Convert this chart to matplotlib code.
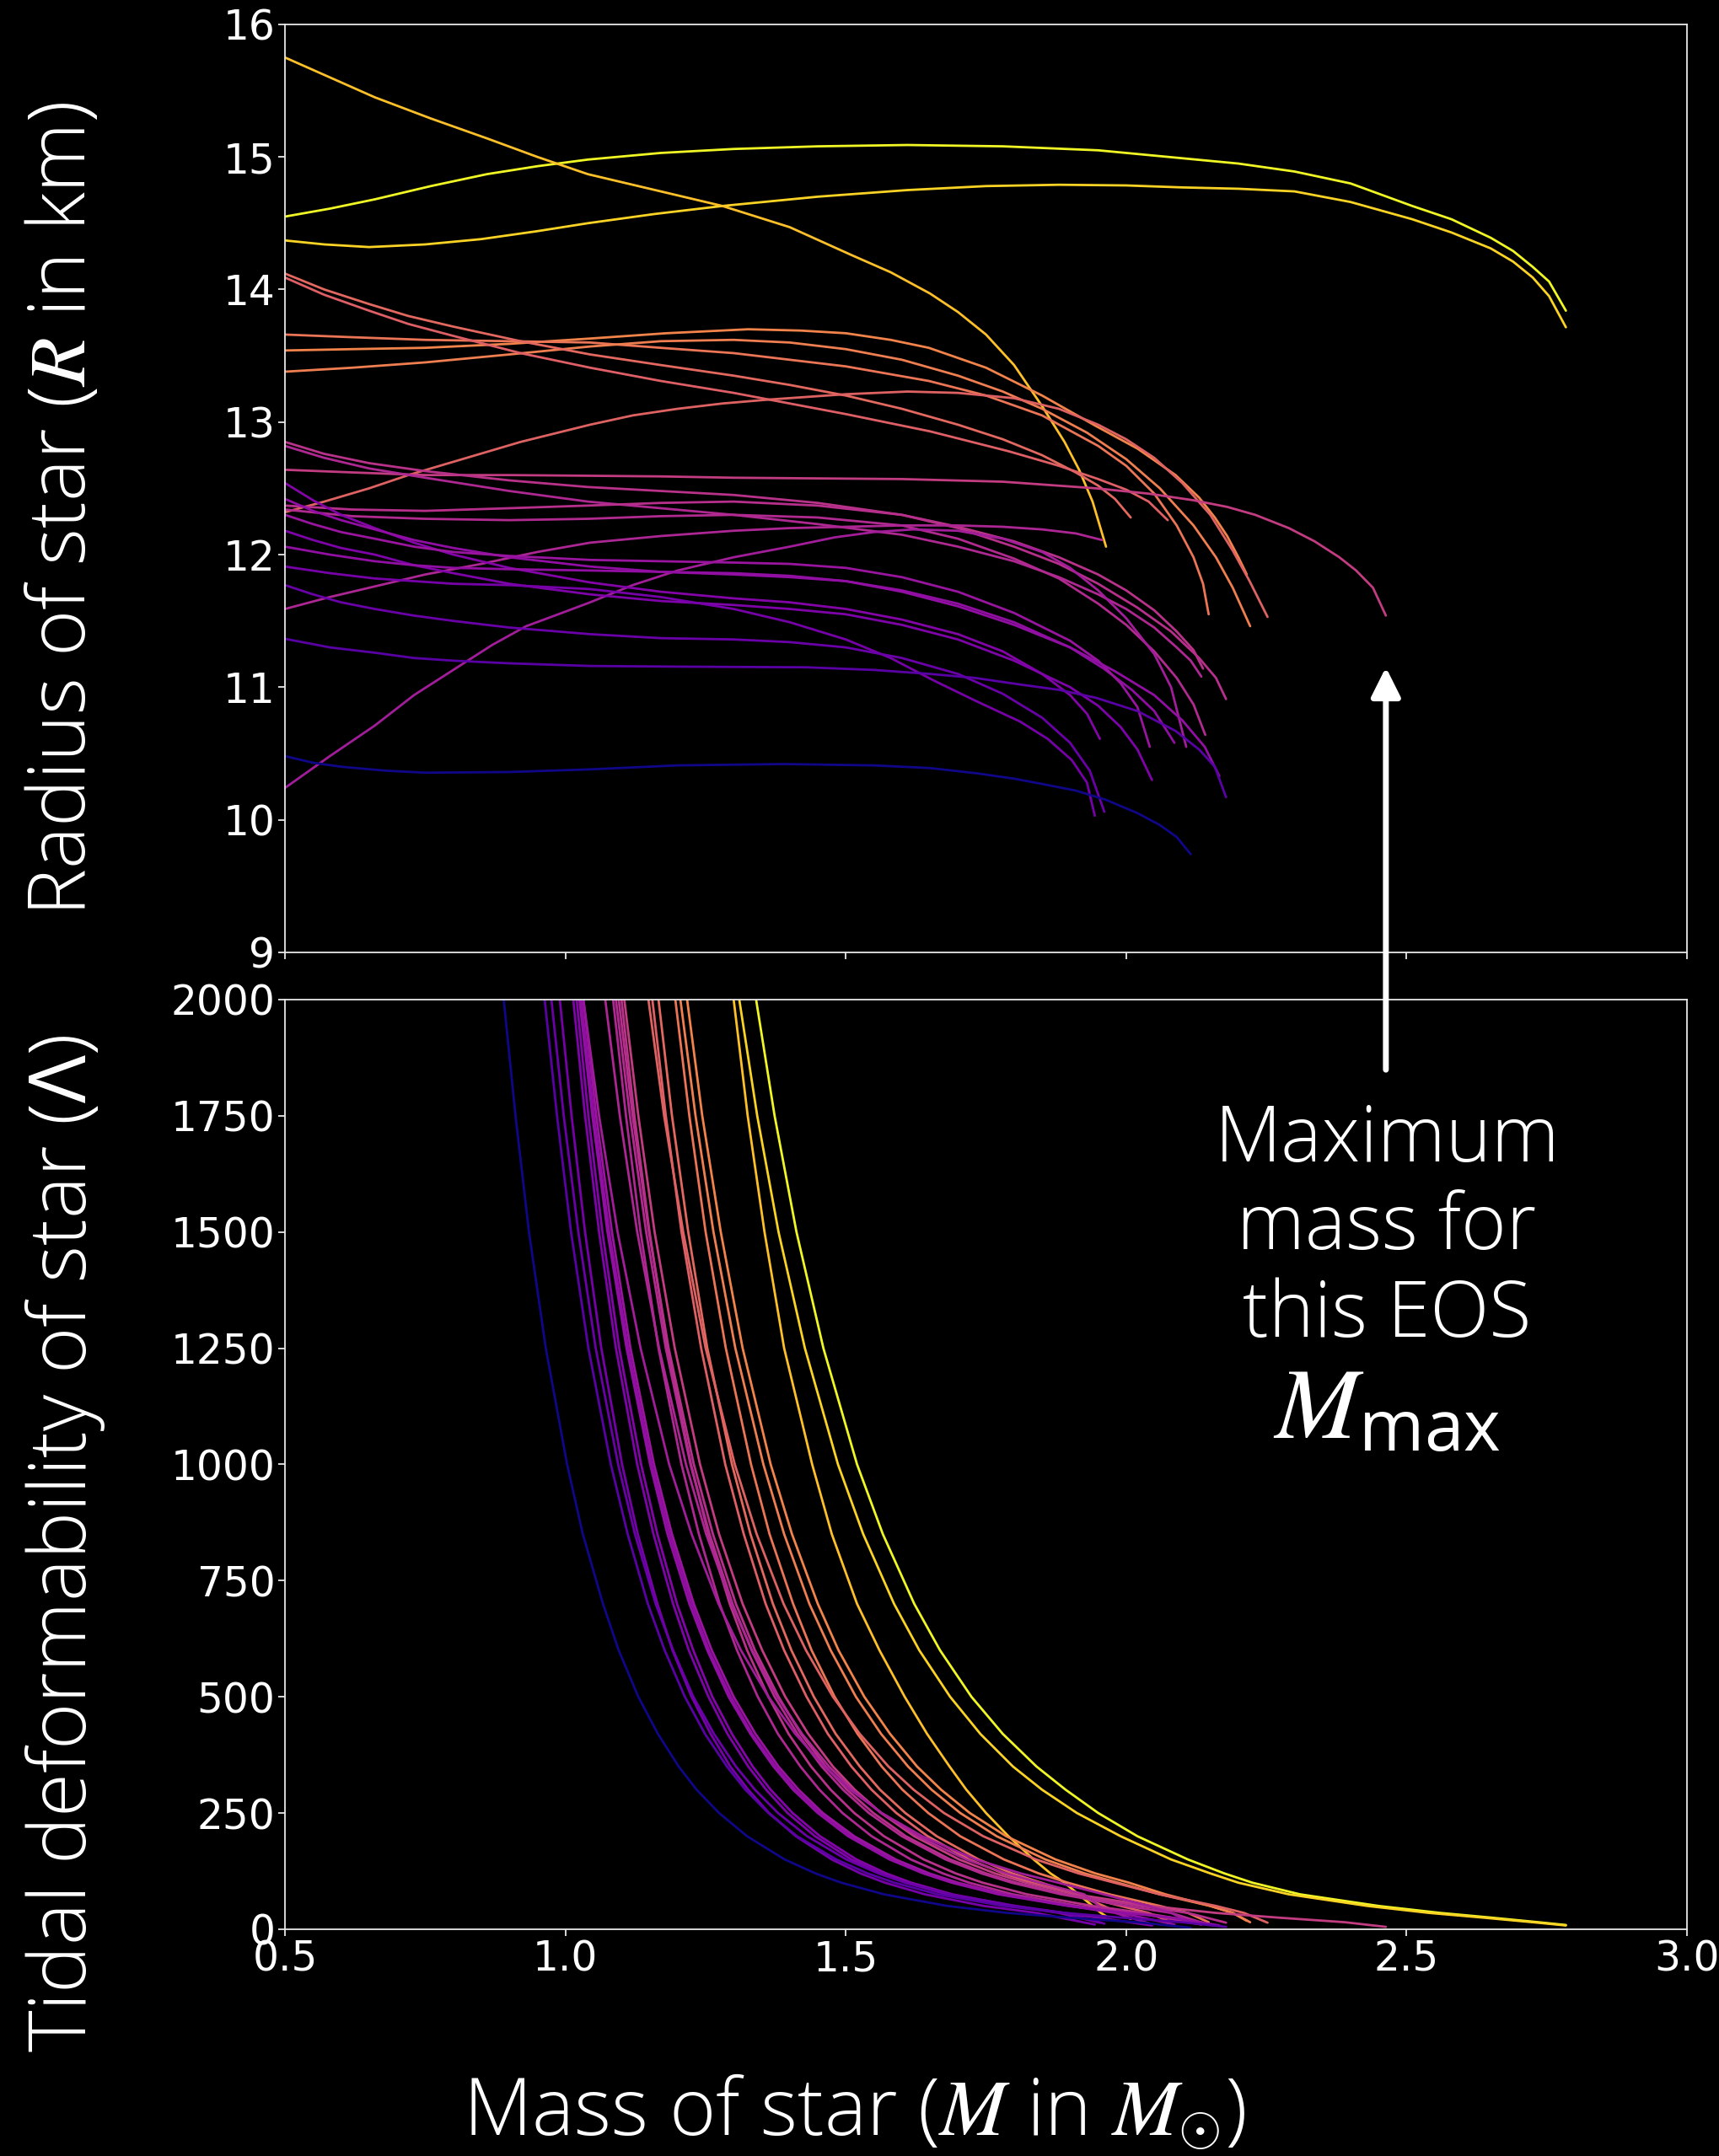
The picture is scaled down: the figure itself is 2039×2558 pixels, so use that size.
import numpy as np
import matplotlib
matplotlib.use("Agg")
import matplotlib.pyplot as plt
from matplotlib.colors import Normalize

plt.rcParams.update({
    "font.family": "DejaVu Sans",
    "mathtext.fontset": "custom",
    "mathtext.rm": "Open Sans",
    "mathtext.sf": "Open Sans",
    "mathtext.it": "STIXGeneral:italic",
    "mathtext.bf": "STIXGeneral:bold",
})

# ---------------------------------------------------------------------------
# Mass-radius relations, one pair of lists per equation of state
# (mass in solar masses, radius in km)
# ---------------------------------------------------------------------------
eos01_mass = [0.5, 0.58, 0.66, 0.76, 0.86, 0.95, 1.04, 1.17, 1.3, 1.45, 1.61, 1.78, 1.95, 2.1, 2.2, 2.3, 2.4, 2.51, 2.58, 2.65, 2.69, 2.725, 2.754, 2.784]
eos01_radius = [14.55, 14.61, 14.68, 14.78, 14.87, 14.93, 14.98, 15.03, 15.06, 15.08, 15.09, 15.08, 15.05, 14.99, 14.95, 14.89, 14.8, 14.63, 14.53, 14.39, 14.29, 14.17, 14.06, 13.84]
eos02_mass = [0.5, 0.57, 0.65, 0.75, 0.85, 0.95, 1.04, 1.16, 1.28, 1.45, 1.61, 1.75, 1.88, 2.0, 2.1, 2.2, 2.3, 2.4, 2.51, 2.58, 2.65, 2.69, 2.725, 2.754, 2.784]
eos02_radius = [14.37, 14.34, 14.32, 14.34, 14.38, 14.44, 14.5, 14.57, 14.63, 14.7, 14.75, 14.78, 14.79, 14.785, 14.77, 14.76, 14.74, 14.66, 14.53, 14.43, 14.31, 14.21, 14.09, 13.95, 13.715]
eos03_mass = [0.5, 0.58, 0.66, 0.76, 0.86, 0.95, 1.04, 1.16, 1.28, 1.4, 1.51, 1.58, 1.65, 1.7, 1.75, 1.8, 1.85, 1.89, 1.916, 1.94, 1.964]
eos03_radius = [15.75, 15.6, 15.45, 15.29, 15.14, 15.0, 14.87, 14.75, 14.63, 14.47, 14.26, 14.13, 13.97, 13.83, 13.66, 13.43, 13.12, 12.85, 12.64, 12.4, 12.06]
eos04_mass = [0.5, 0.62, 0.75, 0.9, 1.044, 1.18, 1.326, 1.42, 1.5, 1.58, 1.648, 1.75, 1.85, 1.946, 2.02, 2.088, 2.13, 2.158, 2.18, 2.2, 2.215]
eos04_radius = [13.54, 13.55, 13.56, 13.59, 13.63, 13.67, 13.70, 13.69, 13.67, 13.62, 13.56, 13.41, 13.2, 12.97, 12.8, 12.6, 12.43, 12.28, 12.14, 11.98, 11.85]
eos05_mass = [0.5, 0.62, 0.75, 0.9, 1.044, 1.17, 1.3, 1.4, 1.5, 1.648, 1.75, 1.85, 1.95, 2.0, 2.05, 2.09, 2.12, 2.137, 2.147]
eos05_radius = [13.66, 13.64, 13.62, 13.61, 13.6, 13.56, 13.52, 13.47, 13.42, 13.31, 13.2, 13.05, 12.82, 12.67, 12.46, 12.22, 11.98, 11.78, 11.55]
eos06_mass = [0.5, 0.62, 0.75, 0.9, 1.044, 1.17, 1.3, 1.4, 1.5, 1.6, 1.7, 1.78, 1.85, 1.93, 2.0, 2.06, 2.12, 2.16, 2.19, 2.221]
eos06_radius = [13.38, 13.41, 13.45, 13.51, 13.57, 13.61, 13.62, 13.6, 13.55, 13.47, 13.35, 13.23, 13.1, 12.92, 12.72, 12.5, 12.22, 11.98, 11.75, 11.46]
eos07_mass = [0.5, 0.57, 0.65, 0.72, 0.8, 0.92, 1.044, 1.17, 1.3, 1.4, 1.5, 1.6, 1.7, 1.78, 1.85, 1.91, 1.95, 1.98, 2.008]
eos07_radius = [14.12, 14.0, 13.89, 13.8, 13.72, 13.61, 13.51, 13.43, 13.35, 13.28, 13.2, 13.1, 12.98, 12.87, 12.75, 12.62, 12.52, 12.42, 12.28]
eos08_mass = [0.5, 0.57, 0.65, 0.72, 0.8, 0.92, 1.044, 1.17, 1.3, 1.4, 1.5, 1.65, 1.79, 1.88, 1.95, 2.0, 2.04, 2.074]
eos08_radius = [14.09, 13.96, 13.84, 13.74, 13.65, 13.52, 13.41, 13.31, 13.22, 13.14, 13.06, 12.93, 12.78, 12.67, 12.57, 12.49, 12.4, 12.26]
eos09_mass = [0.5, 0.57, 0.65, 0.72, 0.8, 0.92, 1.044, 1.12, 1.2, 1.28, 1.364, 1.5, 1.61, 1.7, 1.8, 1.88, 1.95, 2.0, 2.05, 2.1, 2.15, 2.19, 2.22, 2.252]
eos09_radius = [12.32, 12.4, 12.5, 12.6, 12.7, 12.85, 12.98, 13.05, 13.1, 13.14, 13.17, 13.21, 13.23, 13.22, 13.18, 13.1, 12.98, 12.87, 12.73, 12.54, 12.3, 12.03, 11.8, 11.53]
eos10_mass = [0.5, 0.62, 0.75, 0.9, 1.04, 1.17, 1.3, 1.45, 1.6, 1.78, 1.946, 2.04, 2.12, 2.18, 2.23, 2.29, 2.336, 2.38, 2.41, 2.44, 2.463]
eos10_radius = [12.64, 12.62, 12.6, 12.6, 12.595, 12.59, 12.58, 12.575, 12.57, 12.55, 12.5, 12.46, 12.41, 12.36, 12.3, 12.2, 12.1, 11.98, 11.88, 11.75, 11.54]
eos11_mass = [0.5, 0.57, 0.65, 0.75, 0.9, 1.04, 1.17, 1.3, 1.45, 1.6, 1.7, 1.8, 1.88, 1.95, 2.0, 2.05, 2.09, 2.12, 2.137]
eos11_radius = [12.85, 12.76, 12.69, 12.63, 12.56, 12.51, 12.48, 12.45, 12.39, 12.3, 12.21, 12.1, 11.98, 11.85, 11.73, 11.58, 11.42, 11.28, 11.14]
eos12_mass = [0.5, 0.57, 0.65, 0.75, 0.9, 1.04, 1.17, 1.3, 1.45, 1.6, 1.7, 1.8, 1.88, 1.95, 2.0, 2.05, 2.09, 2.115, 2.134]
eos12_radius = [12.82, 12.73, 12.65, 12.58, 12.48, 12.4, 12.35, 12.3, 12.23, 12.15, 12.06, 11.95, 11.83, 11.7, 11.59, 11.45, 11.3, 11.2, 11.08]
eos13_mass = [0.5, 0.62, 0.75, 0.9, 1.04, 1.17, 1.3, 1.45, 1.6, 1.7, 1.8, 1.88, 1.95, 2.02, 2.08, 2.13, 2.16, 2.178]
eos13_radius = [12.37, 12.34, 12.33, 12.35, 12.37, 12.39, 12.4, 12.37, 12.3, 12.2, 12.06, 11.93, 11.78, 11.6, 11.42, 11.22, 11.07, 10.91]
eos14_mass = [0.5, 0.62, 0.75, 0.9, 1.04, 1.17, 1.3, 1.45, 1.6, 1.7, 1.8, 1.88, 1.95, 2.0, 2.05, 2.09, 2.12, 2.141]
eos14_radius = [12.34, 12.29, 12.27, 12.26, 12.27, 12.29, 12.3, 12.28, 12.22, 12.12, 11.97, 11.82, 11.63, 11.47, 11.27, 11.07, 10.87, 10.64]
eos15_mass = [0.5, 0.58, 0.66, 0.75, 0.85, 0.95, 1.044, 1.17, 1.3, 1.4, 1.5, 1.6, 1.7, 1.78, 1.85, 1.91, 1.957]
eos15_radius = [11.59, 11.68, 11.76, 11.85, 11.93, 12.02, 12.09, 12.14, 12.18, 12.2, 12.21, 12.22, 12.22, 12.21, 12.19, 12.16, 12.11]
eos16_mass = [0.5, 0.58, 0.66, 0.73, 0.8, 0.87, 0.93, 1.0, 1.044, 1.12, 1.2, 1.3, 1.4, 1.48, 1.55, 1.62, 1.7, 1.78, 1.85, 1.9, 1.95, 2.0, 2.05, 2.08, 2.107]
eos16_radius = [10.24, 10.48, 10.71, 10.94, 11.13, 11.32, 11.46, 11.57, 11.64, 11.77, 11.88, 11.98, 12.06, 12.13, 12.17, 12.19, 12.18, 12.12, 12.02, 11.9, 11.73, 11.52, 11.25, 11.0, 10.55]
eos17_mass = [0.5, 0.55, 0.6, 0.66, 0.73, 0.8, 0.9, 1.044, 1.17, 1.3, 1.4, 1.5, 1.6, 1.7, 1.78, 1.85, 1.9, 1.93, 1.953]
eos17_radius = [12.54, 12.41, 12.3, 12.2, 12.09, 12.0, 11.9, 11.79, 11.72, 11.67, 11.64, 11.59, 11.51, 11.4, 11.27, 11.1, 10.94, 10.8, 10.61]
eos18_mass = [0.5, 0.55, 0.6, 0.66, 0.73, 0.8, 0.9, 1.044, 1.17, 1.3, 1.4, 1.5, 1.6, 1.7, 1.8, 1.9, 1.96, 2.01, 2.05, 2.086]
eos18_radius = [12.42, 12.33, 12.26, 12.19, 12.11, 12.05, 11.98, 11.91, 11.87, 11.85, 11.83, 11.8, 11.73, 11.63, 11.49, 11.3, 11.14, 10.98, 10.82, 10.58]
eos19_mass = [0.5, 0.55, 0.6, 0.66, 0.73, 0.8, 0.9, 1.044, 1.17, 1.3, 1.4, 1.5, 1.6, 1.7, 1.8, 1.9, 1.95, 1.99, 2.02, 2.042]
eos19_radius = [12.30, 12.23, 12.17, 12.12, 12.06, 12.02, 11.99, 11.96, 11.95, 11.94, 11.93, 11.9, 11.83, 11.72, 11.56, 11.35, 11.2, 11.03, 10.85, 10.55]
eos20_mass = [0.5, 0.55, 0.6, 0.66, 0.73, 0.8, 0.9, 1.044, 1.17, 1.3, 1.4, 1.5, 1.6, 1.7, 1.8, 1.9, 1.95, 1.99, 2.02, 2.046]
eos20_radius = [12.18, 12.11, 12.05, 12.0, 11.92, 11.86, 11.78, 11.7, 11.65, 11.62, 11.59, 11.55, 11.47, 11.36, 11.2, 11.0, 10.86, 10.7, 10.53, 10.30]
eos21_mass = [0.5, 0.58, 0.66, 0.73, 0.8, 0.9, 1.044, 1.17, 1.3, 1.4, 1.5, 1.6, 1.7, 1.8, 1.9, 1.98, 2.05, 2.1, 2.14, 2.166]
eos21_radius = [12.06, 12.0, 11.95, 11.92, 11.9, 11.89, 11.88, 11.87, 11.86, 11.84, 11.8, 11.72, 11.61, 11.47, 11.3, 11.12, 10.94, 10.75, 10.55, 10.33]
eos22_mass = [0.5, 0.58, 0.66, 0.8, 0.9, 1.044, 1.17, 1.3, 1.4, 1.5, 1.58, 1.657, 1.73, 1.811, 1.86, 1.903, 1.93, 1.944]
eos22_radius = [11.91, 11.86, 11.82, 11.78, 11.77, 11.74, 11.68, 11.59, 11.49, 11.36, 11.22, 11.05, 10.9, 10.74, 10.61, 10.45, 10.28, 10.03]
eos23_mass = [0.5, 0.55, 0.6, 0.66, 0.73, 0.8, 0.9, 1.044, 1.17, 1.3, 1.4, 1.5, 1.6, 1.7, 1.78, 1.85, 1.9, 1.935, 1.961]
eos23_radius = [11.77, 11.7, 11.64, 11.59, 11.54, 11.5, 11.45, 11.4, 11.37, 11.36, 11.34, 11.3, 11.22, 11.1, 10.95, 10.77, 10.58, 10.37, 10.06]
eos24_mass = [0.5, 0.58, 0.66, 0.73, 0.8, 0.9, 1.044, 1.2, 1.43, 1.55, 1.65, 1.73, 1.811, 1.88, 1.946, 2.02, 2.088, 2.13, 2.158, 2.178]
eos24_radius = [11.365, 11.3, 11.26, 11.22, 11.2, 11.18, 11.16, 11.155, 11.15, 11.13, 11.1, 11.07, 11.02, 10.98, 10.92, 10.82, 10.67, 10.53, 10.40, 10.17]
eos25_mass = [0.5, 0.55, 0.6, 0.68, 0.75, 0.9, 1.044, 1.2, 1.39, 1.55, 1.65, 1.734, 1.8, 1.85, 1.91, 1.964, 2.02, 2.06, 2.09, 2.115]
eos25_radius = [10.48, 10.43, 10.4, 10.37, 10.355, 10.36, 10.38, 10.41, 10.42, 10.41, 10.39, 10.35, 10.31, 10.27, 10.22, 10.15, 10.05, 9.96, 9.87, 9.74]

# ---------------------------------------------------------------------------
# Tidal deformability: mass at which each curve passes these Lambda levels,
# followed by the value reached at the maximum mass
# ---------------------------------------------------------------------------
lambda_levels = [2600, 2300, 2000, 1750, 1500, 1250, 1000, 850, 700, 600, 500, 420,
                 350, 300, 250, 200, 150, 120, 100, 75, 50, 35, 25, 15]

eos01_lam_mass = [1.278, 1.306, 1.34, 1.373, 1.412, 1.460, 1.520, 1.566, 1.622, 1.668, 1.724, 1.780, 1.840, 1.892, 1.95, 2.02, 2.11, 2.175, 2.225, 2.31, 2.45, 2.56, 2.65, 2.735]
eos02_lam_mass = [1.249, 1.277, 1.31, 1.342, 1.380, 1.427, 1.486, 1.531, 1.586, 1.631, 1.686, 1.740, 1.798, 1.850, 1.912, 1.99, 2.08, 2.15, 2.20, 2.29, 2.43, 2.54, 2.635, 2.725]
eos03_lam_mass = [1.26, 1.28, 1.30, 1.325, 1.355, 1.39, 1.44, 1.475, 1.52, 1.56, 1.605, 1.645, 1.685, 1.715, 1.75, 1.79, 1.835, 1.865, 1.89, 1.915, 1.94, 1.955]
eos04_lam_mass = [1.165, 1.189, 1.217, 1.244, 1.277, 1.316, 1.366, 1.404, 1.450, 1.487, 1.533, 1.579, 1.627, 1.670, 1.721, 1.786, 1.874, 1.945, 2.005, 2.07, 2.15, 2.19]
eos05_lam_mass = [1.149, 1.171, 1.196, 1.221, 1.250, 1.286, 1.331, 1.364, 1.406, 1.439, 1.480, 1.521, 1.564, 1.601, 1.647, 1.704, 1.782, 1.844, 1.896, 1.97, 2.06, 2.11]
eos06_lam_mass = [1.153, 1.177, 1.205, 1.232, 1.264, 1.303, 1.353, 1.390, 1.435, 1.473, 1.518, 1.563, 1.611, 1.653, 1.704, 1.769, 1.856, 1.926, 1.985, 2.06, 2.15, 2.19]
eos07_lam_mass = [1.120, 1.141, 1.166, 1.190, 1.219, 1.253, 1.297, 1.330, 1.370, 1.403, 1.443, 1.482, 1.525, 1.561, 1.606, 1.662, 1.737, 1.797, 1.849, 1.91, 1.96]
eos08_lam_mass = [1.109, 1.130, 1.155, 1.179, 1.207, 1.242, 1.285, 1.318, 1.357, 1.390, 1.430, 1.468, 1.510, 1.546, 1.590, 1.646, 1.720, 1.781, 1.831, 1.91, 1.99, 2.04]
eos09_lam_mass = [1.095, 1.119, 1.148, 1.176, 1.210, 1.250, 1.302, 1.341, 1.389, 1.429, 1.477, 1.525, 1.576, 1.621, 1.675, 1.745, 1.839, 1.915, 1.979, 2.06, 2.16, 2.21]
eos10_lam_mass = [1.058, 1.080, 1.105, 1.130, 1.159, 1.195, 1.240, 1.274, 1.316, 1.351, 1.392, 1.433, 1.477, 1.516, 1.563, 1.622, 1.702, 1.766, 1.821, 1.910, 2.043, 2.16, 2.27, 2.39]
eos11_lam_mass = [1.056, 1.077, 1.10, 1.123, 1.150, 1.182, 1.224, 1.255, 1.293, 1.324, 1.362, 1.398, 1.438, 1.473, 1.515, 1.568, 1.639, 1.696, 1.744, 1.823, 1.940, 2.03]
eos12_lam_mass = [1.042, 1.062, 1.085, 1.108, 1.134, 1.166, 1.207, 1.238, 1.275, 1.306, 1.343, 1.379, 1.419, 1.453, 1.494, 1.546, 1.616, 1.673, 1.720, 1.798, 1.914, 2.02]
eos13_lam_mass = [1.048, 1.070, 1.095, 1.120, 1.149, 1.184, 1.229, 1.263, 1.304, 1.338, 1.380, 1.420, 1.464, 1.502, 1.549, 1.607, 1.686, 1.750, 1.804, 1.893, 2.025, 2.11]
eos14_lam_mass = [1.043, 1.065, 1.09, 1.115, 1.144, 1.179, 1.223, 1.257, 1.298, 1.332, 1.373, 1.414, 1.457, 1.495, 1.541, 1.600, 1.678, 1.742, 1.796, 1.884, 2.0, 2.08]
eos15_lam_mass = [1.021, 1.044, 1.071, 1.097, 1.128, 1.167, 1.215, 1.251, 1.296, 1.333, 1.378, 1.422, 1.470, 1.512, 1.563, 1.628, 1.715, 1.786, 1.846, 1.925]
eos16_lam_mass = [0.979, 1.004, 1.032, 1.060, 1.093, 1.134, 1.185, 1.225, 1.273, 1.313, 1.362, 1.410, 1.462, 1.508, 1.564, 1.636, 1.732, 1.812, 1.879, 1.96, 2.04, 2.08]
eos17_lam_mass = [0.980, 0.998, 1.02, 1.041, 1.066, 1.096, 1.135, 1.164, 1.199, 1.228, 1.262, 1.297, 1.334, 1.366, 1.405, 1.454, 1.519, 1.572, 1.617, 1.690, 1.80, 1.88]
eos18_lam_mass = [0.984, 1.004, 1.028, 1.051, 1.078, 1.112, 1.154, 1.186, 1.225, 1.256, 1.295, 1.333, 1.375, 1.410, 1.454, 1.509, 1.583, 1.643, 1.694, 1.777, 1.90, 1.99]
eos19_lam_mass = [0.988, 1.008, 1.032, 1.055, 1.083, 1.116, 1.158, 1.190, 1.229, 1.261, 1.300, 1.339, 1.380, 1.416, 1.459, 1.515, 1.589, 1.649, 1.700, 1.784, 1.90, 1.98]
eos20_lam_mass = [0.974, 0.992, 1.014, 1.035, 1.060, 1.090, 1.128, 1.157, 1.192, 1.220, 1.255, 1.289, 1.326, 1.358, 1.396, 1.445, 1.510, 1.563, 1.608, 1.680, 1.789, 1.89]
eos21_lam_mass = [0.981, 1.001, 1.025, 1.048, 1.075, 1.109, 1.151, 1.182, 1.221, 1.253, 1.291, 1.330, 1.371, 1.406, 1.450, 1.504, 1.578, 1.638, 1.689, 1.772, 1.896, 2.0, 2.08]
eos22_lam_mass = [0.951, 0.969, 0.99, 1.011, 1.035, 1.064, 1.101, 1.129, 1.164, 1.191, 1.225, 1.259, 1.294, 1.326, 1.363, 1.411, 1.475, 1.526, 1.570, 1.641, 1.746, 1.84]
eos23_lam_mass = [0.933, 0.953, 0.975, 0.997, 1.023, 1.054, 1.094, 1.124, 1.161, 1.192, 1.228, 1.265, 1.304, 1.338, 1.379, 1.431, 1.501, 1.558, 1.606, 1.685, 1.803, 1.89]
eos24_lam_mass = [0.922, 0.941, 0.963, 0.985, 1.010, 1.041, 1.081, 1.111, 1.147, 1.177, 1.213, 1.249, 1.288, 1.321, 1.362, 1.413, 1.483, 1.539, 1.587, 1.664, 1.781, 1.89, 1.99, 2.10]
eos25_lam_mass = [0.851, 0.869, 0.89, 0.911, 0.935, 0.965, 1.003, 1.031, 1.067, 1.095, 1.130, 1.165, 1.202, 1.234, 1.274, 1.324, 1.391, 1.446, 1.492, 1.568, 1.681, 1.788, 1.895, 2.02]

# Lambda reached at the maximum mass of each model
lambda_at_max = [9, 8, 28, 18, 15, 15, 22, 18, 14, 5, 14, 10, 14, 12, 45, 20,
                 14, 10, 12, 8, 8, 10, 12, 5, 3]

mass_lists = [eos01_mass, eos02_mass, eos03_mass, eos04_mass, eos05_mass,
              eos06_mass, eos07_mass, eos08_mass, eos09_mass, eos10_mass,
              eos11_mass, eos12_mass, eos13_mass, eos14_mass, eos15_mass,
              eos16_mass, eos17_mass, eos18_mass, eos19_mass, eos20_mass,
              eos21_mass, eos22_mass, eos23_mass, eos24_mass, eos25_mass]
radius_lists = [eos01_radius, eos02_radius, eos03_radius, eos04_radius, eos05_radius,
                eos06_radius, eos07_radius, eos08_radius, eos09_radius, eos10_radius,
                eos11_radius, eos12_radius, eos13_radius, eos14_radius, eos15_radius,
                eos16_radius, eos17_radius, eos18_radius, eos19_radius, eos20_radius,
                eos21_radius, eos22_radius, eos23_radius, eos24_radius, eos25_radius]
lam_mass_lists = [eos01_lam_mass, eos02_lam_mass, eos03_lam_mass, eos04_lam_mass,
                  eos05_lam_mass, eos06_lam_mass, eos07_lam_mass, eos08_lam_mass,
                  eos09_lam_mass, eos10_lam_mass, eos11_lam_mass, eos12_lam_mass,
                  eos13_lam_mass, eos14_lam_mass, eos15_lam_mass, eos16_lam_mass,
                  eos17_lam_mass, eos18_lam_mass, eos19_lam_mass, eos20_lam_mass,
                  eos21_lam_mass, eos22_lam_mass, eos23_lam_mass, eos24_lam_mass,
                  eos25_lam_mass]

# Arrow pointing at the end of one mass-radius curve
arrow_mass = 2.463
arrow_radius_tip = 11.15
arrow_lambda_tail = 1849

# ---------------------------------------------------------------------------
fig = plt.figure(figsize=(20.39, 25.58), dpi=100, facecolor="black")
ax_r = fig.add_axes([0.1658, 0.5583, 0.8156, 0.4304])
ax_l = fig.add_axes([0.1658, 0.1052, 0.8156, 0.4312])

cmap = plt.get_cmap("plasma")
norm = Normalize(vmin=10.4, vmax=15.1)

for m, r, lm, lend in zip(mass_lists, radius_lists, lam_mass_lists, lambda_at_max):
    color = cmap(norm(np.interp(1.4, m, r)))
    ax_r.plot(m, r, color=color, lw=2.0, solid_joinstyle="round",
              solid_capstyle="round")
    lam_m = list(lm) + [m[-1]]
    lam_v = lambda_levels[:len(lm)] + [lend]
    ax_l.plot(lam_m, lam_v, color=color, lw=2.0, solid_joinstyle="round",
              solid_capstyle="round")

for ax in (ax_r, ax_l):
    ax.set_facecolor("black")
    for s in ax.spines.values():
        s.set_color("#e8e8e8")
        s.set_linewidth(1.3)
    ax.tick_params(colors="#e8e8e8", labelcolor="white", labelsize=35,
                   length=6, width=1.3, direction="out", pad=2.5)
    ax.set_xlim(0.5, 3.0)
    ax.set_xticks([0.5, 1.0, 1.5, 2.0, 2.5, 3.0])

ax_r.set_ylim(9, 16)
ax_r.set_yticks(range(9, 17))
ax_r.tick_params(labelbottom=False)
ax_l.set_ylim(0, 2000)
ax_l.set_yticks(range(0, 2001, 250))

label_kw = dict(color="white", fontsize=68, family="Open Sans", fontweight="light")
fig.text(0.0378, 0.7639, r"Radius of star ($R$ in km)", rotation=90,
         ha="center", va="center", **label_kw)
fig.text(0.0378, 0.2842, r"Tidal deformability of star ($\mathit{\Lambda}$)", rotation=90,
         ha="center", va="center", **label_kw)
fig.text(0.4968, 0.0102, r"Mass of star ($M$ in $M_{\odot}$)",
         ha="center", va="baseline", **label_kw)

note_kw = dict(color="white", fontsize=66, family="Open Sans", fontweight="light",
               ha="center", va="baseline")
fig.text(0.8068, 0.4613, "Maximum", **note_kw)
fig.text(0.8068, 0.4208, "mass for", **note_kw)
fig.text(0.8068, 0.3800, "this EOS", **note_kw)
fig.text(0.8068, 0.3327, r"$M_{\mathrm{max}}$", color="white", fontsize=86,
         ha="center", va="baseline")

ax_l.annotate("", xy=(arrow_mass, arrow_radius_tip), xycoords=ax_r.transData,
              xytext=(arrow_mass, arrow_lambda_tail), textcoords=ax_l.transData,
              arrowprops=dict(arrowstyle="-|>,head_length=0.7,head_width=0.35",
                              color="white", lw=5, mutation_scale=30,
                              shrinkA=0, shrinkB=0),
              annotation_clip=False)

fig.savefig("out.png", dpi=100, facecolor="black")
